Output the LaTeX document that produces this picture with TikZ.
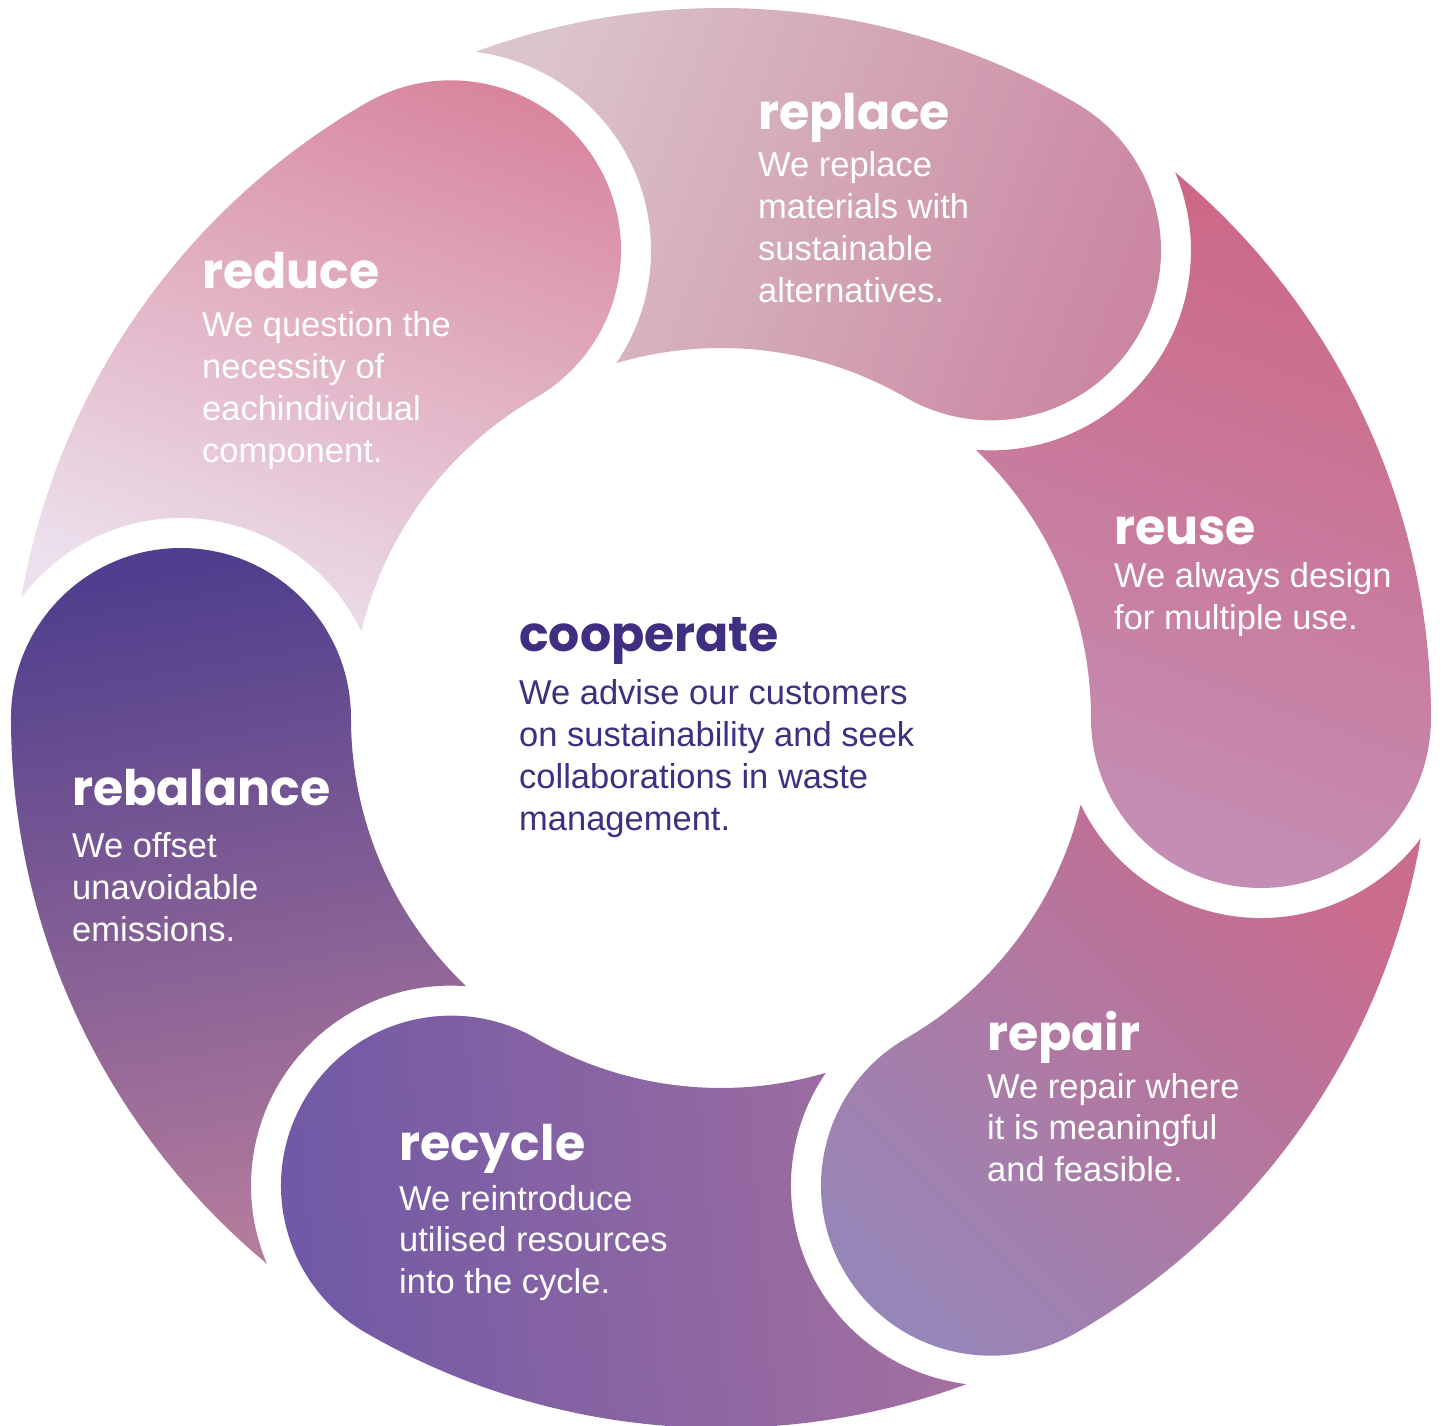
\documentclass[tikz,border=0pt]{standalone}
\usepackage{fontspec}
\setmainfont{Liberation Sans}
\newfontfamily\headfont{Poppins}

\definecolor{replaceTail}{RGB}{219,196,202}
\definecolor{replaceHead}{RGB}{203,134,162}
\definecolor{reduceHead}{RGB}{216,134,158}
\definecolor{reduceTail}{RGB}{236,224,236}
\definecolor{reuseTail}{RGB}{205,104,134}
\definecolor{reuseHead}{RGB}{196,142,180}
\definecolor{repairTail}{RGB}{201,108,142}
\definecolor{repairHead}{RGB}{150,134,184}
\definecolor{recycleHead}{RGB}{110,88,166}
\definecolor{recycleTail}{RGB}{164,112,160}
\definecolor{rebalanceHead}{RGB}{80,63,142}
\definecolor{rebalanceTail}{RGB}{180,124,156}
\definecolor{coopText}{RGB}{64,46,128}

\begin{document}
\begin{tikzpicture}[
    x=1pt, y=1pt,
    every node/.style={inner sep=0pt, anchor=base west},
    tLabel/.style={font=\headfont\bfseries\fontsize{49}{56}\selectfont, text=white},
    bLabel/.style={font=\fontsize{34.5}{41.7}\selectfont, text=white, align=left},
    cTitle/.style={tLabel, text=coopText},
    cBody/.style={bLabel, text=coopText}
]
    \useasboundingbox (-721,-708) rectangle (722,718);

    % petals: outer arc, round head, inner arc, cut by the head before it
    \shade[top color=reduceHead, bottom color=reduceTail, shading angle=-20]
        (170.24:710) arc[start angle=170.24, end angle=120, radius=710]
        arc[start angle=120, end angle=-60, radius=170]
        arc[start angle=120, end angle=166.46, radius=370]
        arc[start angle=25.66, end angle=143, radius=200] -- cycle;
    \shade[top color=replaceTail, bottom color=replaceHead, shading angle=70]
        (110.24:710) arc[start angle=110.24, end angle=60, radius=710]
        arc[start angle=60, end angle=-120, radius=170]
        arc[start angle=60, end angle=106.46, radius=370]
        arc[start angle=-34.34, end angle=83, radius=200] -- cycle;
    \shade[top color=reuseTail, bottom color=reuseHead, shading angle=-20]
        (50.24:710) arc[start angle=50.24, end angle=0, radius=710]
        arc[start angle=0, end angle=-180, radius=170]
        arc[start angle=0, end angle=46.46, radius=370]
        arc[start angle=-94.34, end angle=23, radius=200] -- cycle;
    \shade[top color=repairTail, bottom color=repairHead, shading angle=-45]
        (350.24:710) arc[start angle=350.24, end angle=300, radius=710]
        arc[start angle=300, end angle=120, radius=170]
        arc[start angle=300, end angle=346.46, radius=370]
        arc[start angle=205.66, end angle=323, radius=200] -- cycle;
    \shade[top color=recycleHead, bottom color=recycleTail, shading angle=95]
        (290.24:710) arc[start angle=290.24, end angle=240, radius=710]
        arc[start angle=240, end angle=60, radius=170]
        arc[start angle=240, end angle=286.46, radius=370]
        arc[start angle=145.66, end angle=263, radius=200] -- cycle;
    \shade[top color=rebalanceHead, bottom color=rebalanceTail, shading angle=10]
        (230.24:710) arc[start angle=230.24, end angle=180, radius=710]
        arc[start angle=180, end angle=0, radius=170]
        arc[start angle=180, end angle=226.46, radius=370]
        arc[start angle=85.66, end angle=203, radius=200] -- cycle;

    % labels (text blocks sit on the baseline of their last line)
    \node[tLabel] (replace) at (37,588) {replace};
    \node[bLabel] (replaceText) at (37,415.9) {We replace\\materials with\\sustainable\\alternatives.};

    \node[tLabel] (reduce) at (-519,429) {reduce};
    \node[bLabel] (reduceText) at (-519,255.9) {We question the\\necessity of\\eachindividual\\component.};

    \node[tLabel] (reuse) at (393,173) {reuse};
    \node[bLabel] (reuseText) at (393,88.3) {We always design\\for multiple use.};

    \node[tLabel] (rebalance) at (-649,-88) {rebalance};
    \node[bLabel] (rebalanceText) at (-649,-223.4) {We offset\\unavoidable\\emissions.};

    \node[tLabel] (repair) at (266,-332) {repair};
    \node[bLabel] (repairText) at (266,-463.4) {We repair where\\it is meaningful\\and feasible.};

    \node[tLabel] (recycle) at (-322,-442) {recycle};
    \node[bLabel] (recycleText) at (-322,-575.4) {We reintroduce\\utilised resources\\into the cycle.};

    \node[cTitle] (cooperate) at (-202,66) {cooperate};
    \node[cBody] (cooperateText) at (-202,-112.1) {We advise our customers\\on sustainability and seek\\collaborations in waste\\management.};
\end{tikzpicture}
\end{document}
